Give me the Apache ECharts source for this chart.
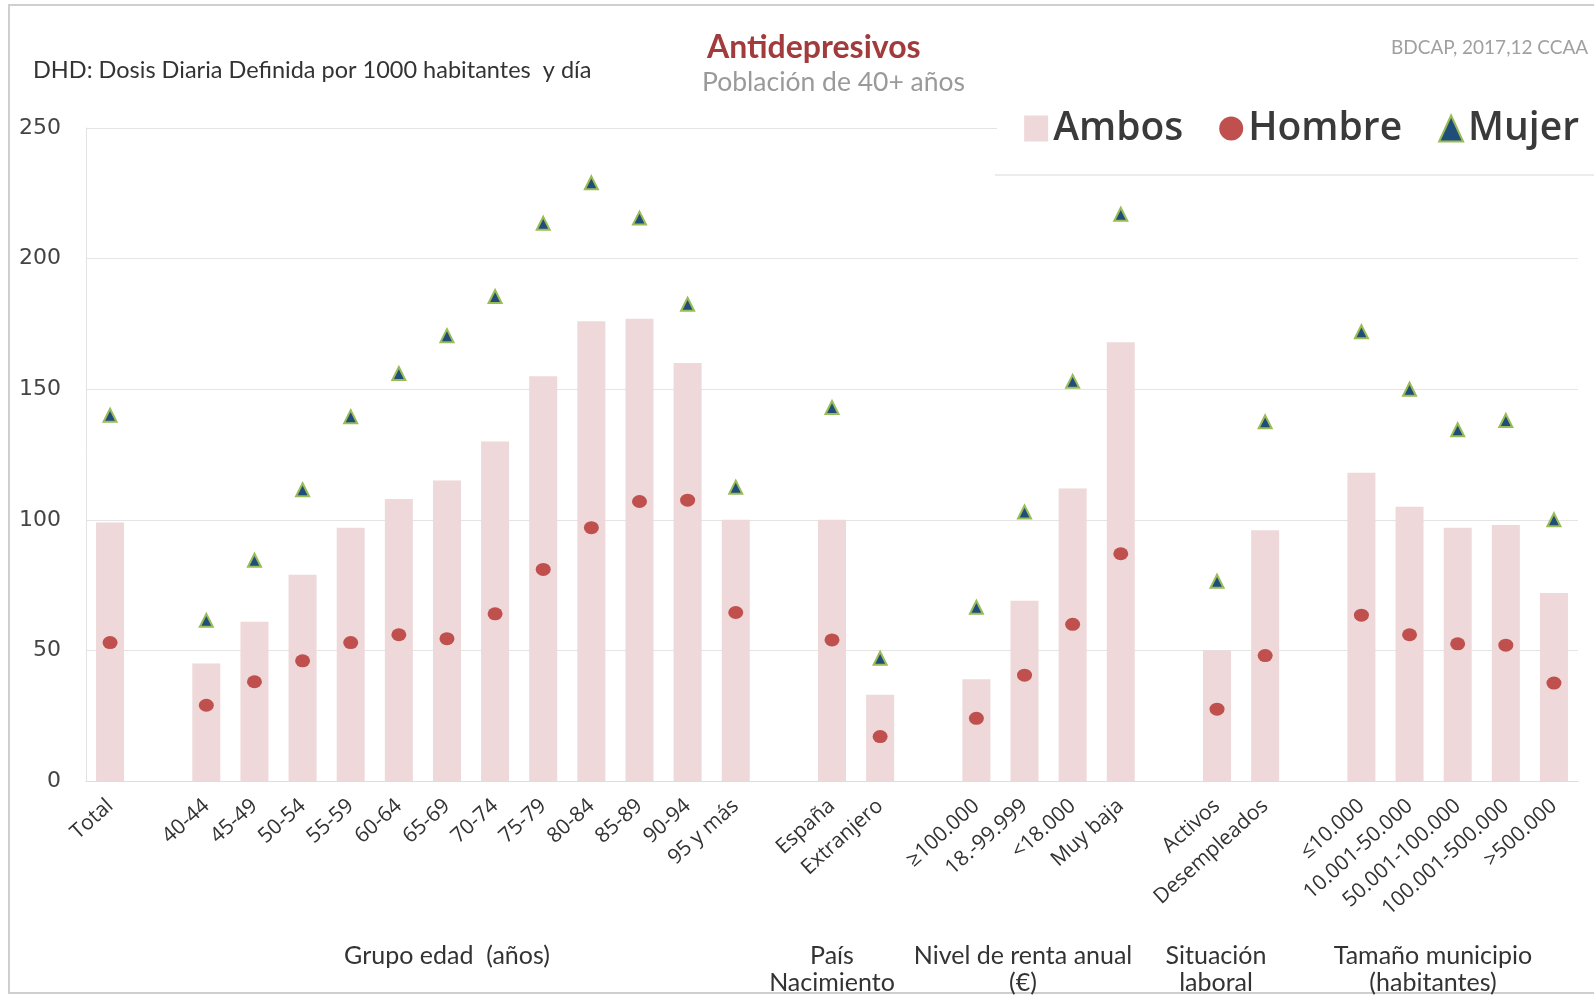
<!DOCTYPE html>
<html>
<head>
<meta charset="utf-8">
<script src="https://cdn.jsdelivr.net/npm/echarts@6/dist/echarts.min.js"></script>
<style>
  html, body { margin: 0; padding: 0; background: #fff; }
  #chart { width: 1594px; height: 996px; }
</style>
</head>
<body>
<div id="chart"></div>
<script>
// categorias ('' = hueco entre grupos)
const categories = [
  'Total', '',
  '40-44', '45-49', '50-54', '55-59', '60-64', '65-69', '70-74', '75-79', '80-84', '85-89', '90-94', '95 y más', '',
  'España', 'Extranjero', '',
  '≥100.000', '18.-99.999', '<18.000', 'Muy baja', '',
  'Activos', 'Desempleados', '',
  '≤10.000', '10.001-50.000', '50.001-100.000', '100.001-500.000', '>500.000'
];
const ambos = [
  99, null,
  45, 61, 79, 97, 108, 115, 130, 155, 176, 177, 160, 100, null,
  100, 33, null,
  39, 69, 112, 168, null,
  50, 96, null,
  118, 105, 97, 98, 72
];
const hombre = [
  53, null,
  29, 38, 46, 53, 56, 54.5, 64, 81, 97, 107, 107.5, 64.5, null,
  54, 17, null,
  24, 40.5, 60, 87, null,
  27.5, 48, null,
  63.5, 56, 52.5, 52, 37.5
];
const mujer = [
  140, null,
  61.5, 84.5, 111.5, 139.5, 156, 170.5, 185.5, 213.5, 229, 215.5, 182.5, 112.5, null,
  143, 47, null,
  66.5, 103, 153, 217, null,
  76.5, 137.5, null,
  172, 150, 134.5, 138, 100
];
const yTicks = [0, 50, 100, 150, 200, 250];

const chart = echarts.init(document.getElementById('chart'));
const font = 'Lato, "Open Sans", sans-serif';
const wide = '"Open Sans", Lato, sans-serif';

chart.setOption({
  backgroundColor: '#fff',
  animation: false,
  textStyle: { fontFamily: font },
  grid: { left: 86, right: 16, top: 128, bottom: 215 },
  legend: {
    right: 10,
    top: 104,
    z: 10,
    itemWidth: 24,
    itemHeight: 26,
    itemGap: 36,
    textStyle: { fontSize: 39, color: '#3a3a3a', fontWeight: 600, fontFamily: wide, padding: [0, 0, 0, 0] },
    data: [
      { name: 'Ambos', icon: 'rect', itemStyle: { color: '#eed8d9' } },
      { name: 'Hombre', icon: 'circle', itemStyle: { color: '#c0504d' } },
      { name: 'Mujer', icon: 'triangle', itemStyle: { color: '#1f4e79', borderColor: '#9bbb59', borderWidth: 2 } }
    ]
  },
  xAxis: {
    type: 'category',
    data: categories,
    axisTick: { show: false },
    axisLine: { lineStyle: { color: '#dddddd' } },
    axisLabel: {
      interval: 0,
      rotate: 42,
      fontSize: 21,
      fontFamily: wide,
      color: '#333',
      margin: 22
    }
  },
  yAxis: {
    type: 'value',
    min: 0,
    max: yTicks[yTicks.length - 1],
    interval: 50,
    axisLine: { show: true, lineStyle: { color: '#e2e2e2' } },
    axisTick: { show: false },
    axisLabel: { fontSize: 22, color: '#444', margin: 25, fontFamily: 'Verdana, "DejaVu Sans", sans-serif' },
    splitLine: { lineStyle: { color: '#e4e4e4' } }
  },
  series: [
    {
      name: 'Ambos',
      type: 'bar',
      barWidth: 28,
      data: ambos,
      itemStyle: { color: '#eed8d9' },
      z: 1
    },
    {
      name: 'Hombre',
      type: 'scatter',
      symbol: 'circle',
      symbolSize: [15, 13],
      data: hombre,
      itemStyle: { color: '#c0504d', opacity: 1 },
      z: 3
    },
    {
      name: 'Mujer',
      type: 'scatter',
      symbol: 'triangle',
      symbolSize: 13,
      data: mujer,
      itemStyle: { color: '#1f4e79', borderColor: '#9bbb59', borderWidth: 2, opacity: 1 },
      z: 3
    }
  ],
  graphic: [
    { type: 'rect', z: -10, shape: { x: 9, y: 5, width: 1600, height: 988 }, style: { fill: null, stroke: '#cfcfcf', lineWidth: 2 } },
    // caja blanca de la leyenda que tapa la linea de 250
    { type: 'rect', z: 5, shape: { x: 997, y: 100, width: 600, height: 74 }, style: { fill: '#fff' } },
    { type: 'line', z: 6, shape: { x1: 995, y1: 175, x2: 1594, y2: 175 }, style: { stroke: '#ececec', lineWidth: 2 } },
    { type: 'text', left: 707, top: 32, style: { text: 'Antidepresivos', fontSize: 32, fontWeight: 'bold', fill: '#a23b3b', fontFamily: font } },
    { type: 'text', left: 702, top: 69, style: { text: 'Población de 40+ años', fontSize: 26.5, fill: '#9a9a9a', fontFamily: font } },
    { type: 'text', left: 33, top: 58, style: { text: 'DHD: Dosis Diaria Definida por 1000 habitantes  y día', fontSize: 23.5, fill: '#333', fontFamily: font } },
    { type: 'text', left: 1391, top: 38, style: { text: 'BDCAP, 2017,12 CCAA', fontSize: 19, fill: '#a0a0a0', fontFamily: font } },
    { type: 'text', x: 447, y: 956, style: { text: 'Grupo edad  (años)', fontSize: 25, fill: '#333', align: 'center', verticalAlign: 'middle', fontFamily: font } },
    { type: 'text', x: 832, y: 969, style: { text: 'País\nNacimiento', fontSize: 25, lineHeight: 27, fill: '#333', align: 'center', verticalAlign: 'middle', fontFamily: font } },
    { type: 'text', x: 1023, y: 969, style: { text: 'Nivel de renta anual\n(€)', fontSize: 25, lineHeight: 27, fill: '#333', align: 'center', verticalAlign: 'middle', fontFamily: font } },
    { type: 'text', x: 1216, y: 969, style: { text: 'Situación\nlaboral', fontSize: 25, lineHeight: 27, fill: '#333', align: 'center', verticalAlign: 'middle', fontFamily: font } },
    { type: 'text', x: 1433, y: 969, style: { text: 'Tamaño municipio\n(habitantes)', fontSize: 25, lineHeight: 27, fill: '#333', align: 'center', verticalAlign: 'middle', fontFamily: font } }
  ]
});
window.addEventListener('resize', () => chart.resize());
</script>
</body>
</html>
